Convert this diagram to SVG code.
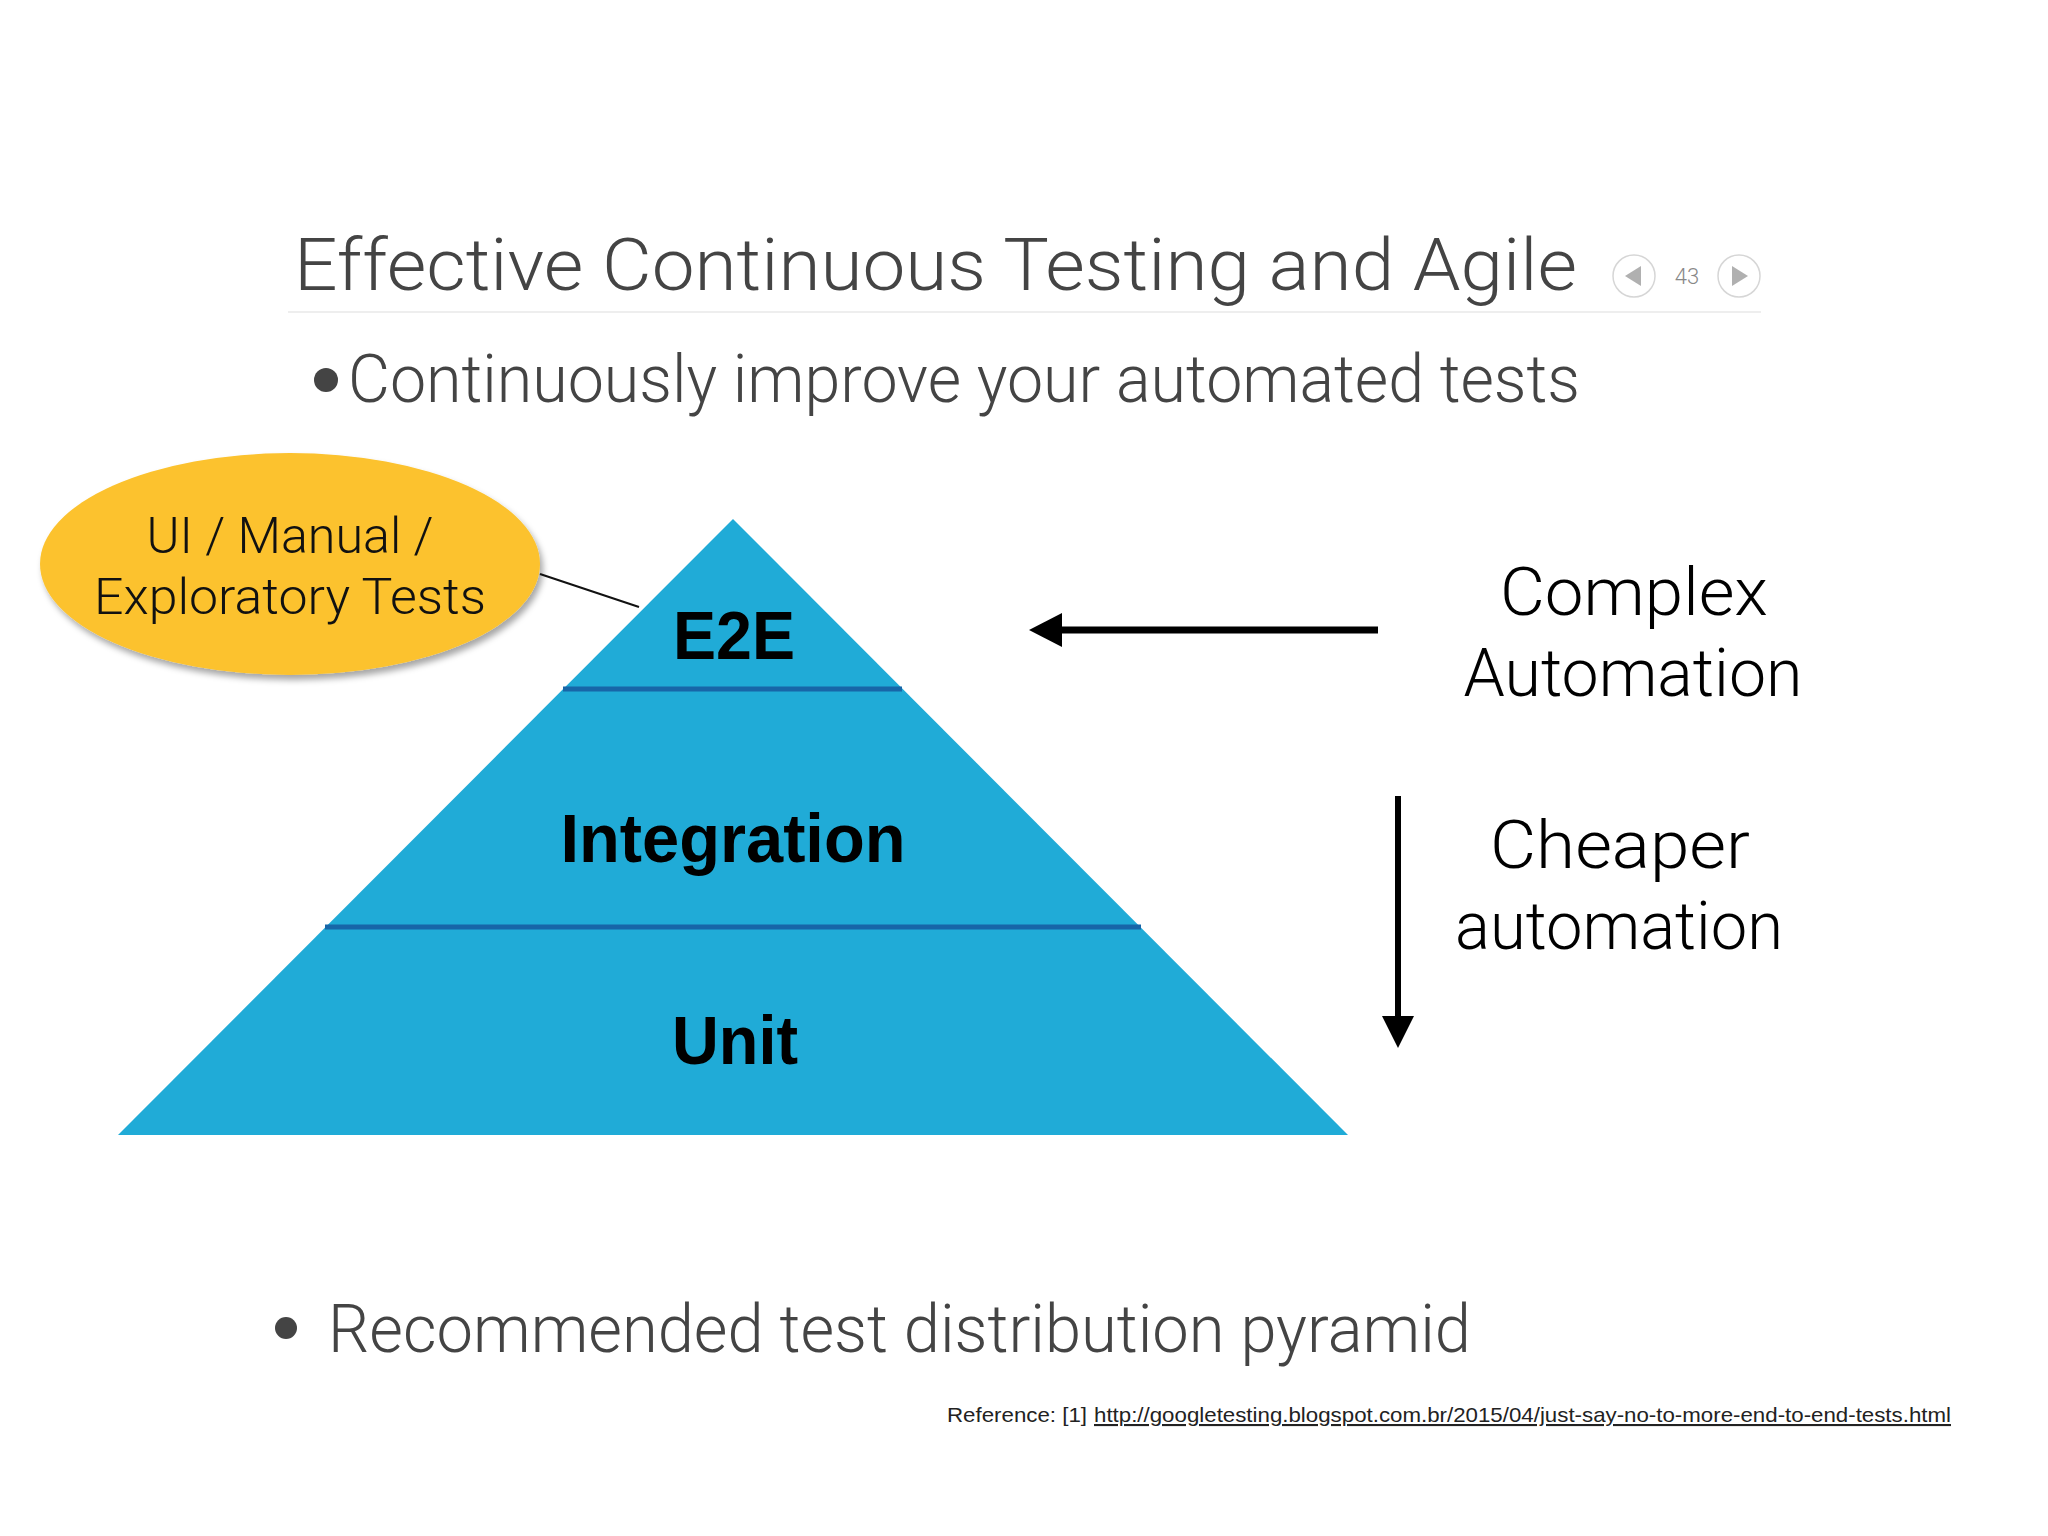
<svg xmlns="http://www.w3.org/2000/svg" width="2048" height="1536" viewBox="0 0 2048 1536">
  <style>
    .light { font-family: Roboto, "Liberation Sans", sans-serif; font-weight: 300; }
    .bold { font-family: "Liberation Sans", Arial, sans-serif; font-weight: bold; fill: #000; }
    .title { font-size: 73px; fill: #444; }
    .bullet { font-size: 66px; fill: #444; }
    .label { font-size: 67px; fill: #000; }
    .oval { font-size: 50px; fill: #111; }
    .layer { font-size: 68px; }
    .ref { font-family: "Liberation Sans", Arial, sans-serif; font-size: 21px; fill: #222; }
    .nav { fill: #fff; stroke: #d6d6d6; stroke-width: 1.5; }
    .navtri { fill: #b0b0b0; }
    .divider { stroke: #1766a8; stroke-width: 5; }
  </style>
  <defs>
    <filter id="shadow" x="-20%" y="-20%" width="140%" height="150%">
      <feDropShadow dx="3" dy="5" stdDeviation="3" flood-color="#000" flood-opacity="0.35"/>
    </filter>
    <marker id="head" markerWidth="5" markerHeight="5" refX="0" refY="2.5" orient="auto" markerUnits="strokeWidth">
      <path d="M0,0 L5,2.5 L0,5 Z" fill="#000"/>
    </marker>
  </defs>

  <rect x="0" y="0" width="2048" height="1536" fill="#ffffff"/>

  <g id="title">
    <text class="light title" x="294" y="290" textLength="1283" lengthAdjust="spacingAndGlyphs">Effective Continuous Testing and Agile</text>
    <line x1="288" y1="312" x2="1761" y2="312" stroke="#eeeeee" stroke-width="2"/>
  </g>

  <g id="nav">
    <circle class="nav" cx="1634" cy="276" r="21"/>
    <polygon class="navtri" points="1625,276 1641,266 1641,286"/>
    <text class="light" x="1687" y="284" font-size="22" fill="#888" text-anchor="middle">43</text>
    <circle class="nav" cx="1739" cy="276" r="21"/>
    <polygon class="navtri" points="1748,276 1732,266 1732,286"/>
  </g>

  <g id="bullet1">
    <circle cx="326" cy="380" r="12" fill="#444"/>
    <text class="light bullet" x="348" y="402" textLength="1232" lengthAdjust="spacingAndGlyphs">Continuously improve your automated tests</text>
  </g>

  <g id="pyramid">
    <polygon points="733,519 1348,1135 118,1135" fill="#20abd7"/>
    <line class="divider" x1="563" y1="689" x2="902" y2="689"/>
    <line class="divider" x1="325" y1="927" x2="1141" y2="927"/>
  </g>

  <g id="e2e">
    <text class="bold layer" x="734" y="659" text-anchor="middle" textLength="122" lengthAdjust="spacingAndGlyphs">E2E</text>
  </g>
  <g id="integration">
    <text class="bold layer" x="733" y="862" text-anchor="middle" textLength="345" lengthAdjust="spacingAndGlyphs">Integration</text>
  </g>
  <g id="unit">
    <text class="bold layer" x="735" y="1064" text-anchor="middle" textLength="126" lengthAdjust="spacingAndGlyphs">Unit</text>
  </g>

  <g id="ui-manual-exploratory">
    <ellipse cx="290" cy="564" rx="250" ry="111" fill="#fcc22e" filter="url(#shadow)"/>
    <text class="light oval" x="290" y="553" text-anchor="middle" textLength="287" lengthAdjust="spacingAndGlyphs">UI / Manual /</text>
    <text class="light oval" x="290" y="614" text-anchor="middle" textLength="392" lengthAdjust="spacingAndGlyphs">Exploratory Tests</text>
  </g>

  <g id="complex-automation">
    <text class="light label" x="1634" y="615" text-anchor="middle" textLength="268" lengthAdjust="spacingAndGlyphs">Complex</text>
    <text class="light label" x="1633" y="696" text-anchor="middle" textLength="339" lengthAdjust="spacingAndGlyphs">Automation</text>
  </g>

  <g id="cheaper-automation">
    <text class="light label" x="1620" y="868" text-anchor="middle" textLength="260" lengthAdjust="spacingAndGlyphs">Cheaper</text>
    <text class="light label" x="1619" y="949" text-anchor="middle" textLength="328" lengthAdjust="spacingAndGlyphs">automation</text>
  </g>

  <g id="connectors">
    <line x1="540" y1="574" x2="639" y2="607" stroke="#111" stroke-width="2"/>
    <line x1="1378" y1="630" x2="1060" y2="630" stroke="#000" stroke-width="7"/>
    <polygon points="1029,630 1062,613 1062,647" fill="#000"/>
    <line x1="1398" y1="796" x2="1398" y2="1020" stroke="#000" stroke-width="6"/>
    <polygon points="1398,1048 1382,1016 1414,1016" fill="#000"/>
  </g>

  <g id="bullet2">
    <circle cx="286" cy="1328" r="11" fill="#444"/>
    <text class="light bullet" x="328" y="1352" textLength="1143" lengthAdjust="spacingAndGlyphs">Recommended test distribution pyramid</text>
  </g>

  <g id="reference">
    <text class="ref" x="947" y="1422" textLength="140" lengthAdjust="spacingAndGlyphs">Reference: [1]</text>
    <text class="ref" x="1094" y="1422" textLength="857" lengthAdjust="spacingAndGlyphs" text-decoration="underline">http://googletesting.blogspot.com.br/2015/04/just-say-no-to-more-end-to-end-tests.html</text>
  </g>
</svg>
